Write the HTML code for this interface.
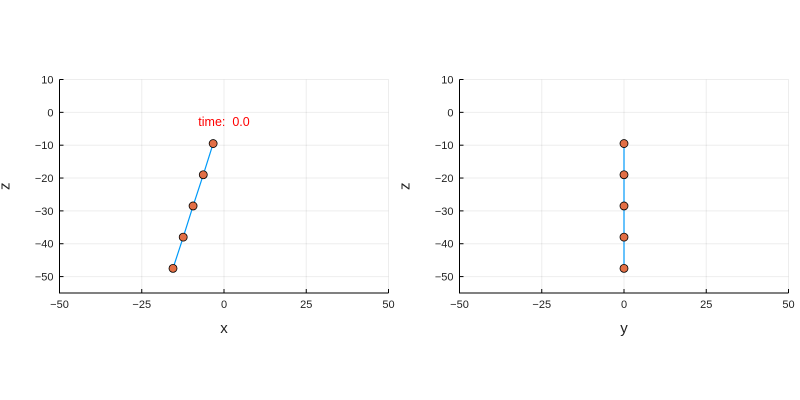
<!DOCTYPE html>
<html><head><meta charset="utf-8"><style>body{margin:0;background:#fff}svg{display:block}text{white-space:pre}</style></head>
<body>
<svg id="c" width="800" height="400" xmlns="http://www.w3.org/2000/svg" font-family="Liberation Sans, DejaVu Sans, sans-serif"></svg>
<script>
const xTicks=[-50,-25,0,25,50];
const zTicks=[10,0,-10,-20,-30,-40,-50];
const xVals=[-15.5,-12.4,-9.4,-6.3,-3.3];
const yVals=[0,0,0,0,0];
const zVals=[-47.5,-38,-28.5,-19,-9.5];
const labelText="time:  0.0";
const svg=document.getElementById('c');
const NS='http://www.w3.org/2000/svg';
function mk(t,a,p){const e=document.createElementNS(NS,t);for(const k in a)e.setAttribute(k,a[k]);(p||svg).appendChild(e);return e;}
function panel(x0,xlabel,hor,name,withLabel){
  const L=x0,R=x0+329,T=79.5,B=293;
  const sx=v=>L+(v+50)/100*(R-L);
  const sz=v=>T+(10-v)/65*(B-T);
  const g=mk('g',{});
  
  
  xTicks.forEach(t=>{
    const l=mk('line',{x1:sx(t),x2:sx(t),y1:T,y2:B,stroke:'#000','stroke-opacity':0.07},g);
    
    const tx=mk('text',{x:sx(t),y:B+15,'font-size':11,'text-anchor':'middle',fill:'#222'},g);
    tx.textContent=t<0?'\u2212'+(-t):t;
    
  });
  zTicks.forEach(t=>{
    const l=mk('line',{x1:L,x2:R,y1:sz(t),y2:sz(t),stroke:'#000','stroke-opacity':0.07},g);
    
    mk('line',{x1:L,x2:L+4,y1:sz(t),y2:sz(t),stroke:'#000'},g);
    const tx=mk('text',{x:L-6,y:sz(t)+4,'font-size':11,'text-anchor':'end',fill:'#222'},g);
    tx.textContent=t<0?'\u2212'+(-t):t;
    
  });
  xTicks.forEach(t=>mk('line',{x1:sx(t),x2:sx(t),y1:B,y2:B-4,stroke:'#000'},g));
  const ax=mk('path',{d:`M${L} ${T}V${B}H${R}`,stroke:'#000',fill:'none','stroke-width':1},g);
  
  const xl=mk('text',{x:(L+R)/2,y:B+40,'font-size':15,'text-anchor':'middle',fill:'#222'},g);
  xl.textContent=xlabel;
  const zl=mk('text',{x:0,y:0,'font-size':15,'text-anchor':'middle',fill:'#222',transform:`translate(${L-50},${(T+B)/2}) rotate(-90)`},g);
  zl.textContent='z';
  const pts=hor.map((h,i)=>[sx(h),sz(zVals[i])]);
  const ln=mk('polyline',{points:pts.map(p=>p.join(',')).join(' '),fill:'none',stroke:'#009af9','stroke-width':1.2},g);
  
  pts.forEach(p=>{
    const c=mk('circle',{cx:p[0],cy:p[1],r:4,fill:'#e26f46',stroke:'#000','stroke-width':0.8},g);
    
  });
  if(withLabel){
    const t=mk('text',{x:sx(0),y:sz(-3)+4,'font-size':12.5,'text-anchor':'middle',fill:'#ff0000','xml:space':'preserve'},g);
    t.textContent=labelText;
  }
}
panel(59.5,'x',xVals,'xz-panel',true);
panel(459.5,'y',yVals,'yz-panel',false);
</script>
</body></html>
